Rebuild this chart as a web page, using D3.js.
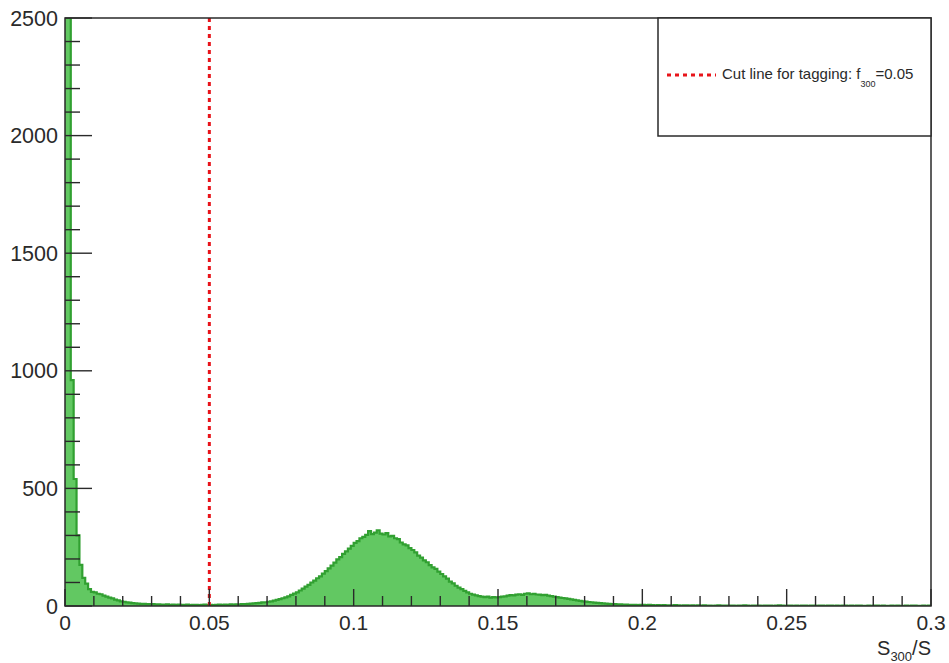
<!DOCTYPE html>
<html>
<head>
<meta charset="utf-8">
<script src="https://cdn.jsdelivr.net/npm/d3@7"></script>
<style>
  body { margin: 0; background: #fff; }
  text { font-family: "Liberation Sans", Arial, Helvetica, sans-serif; fill: #2a2a2a; }
</style>
</head>
<body>
<script>
let width = 949
let height = 663

// histogram of S300/S, bins of 0.001 from 0 to 0.3
const binWidth = 0.001
const counts = [
  6000, 2700, 960, 540, 300, 175, 120, 95, 72, 60,
  58, 52, 50, 44, 40, 36, 32, 27, 24, 20,
  18, 15, 14, 12, 11, 10, 9, 9, 8, 8,
  8, 7, 7, 6, 6, 7, 5, 6, 5, 6,
  5, 5, 6, 4, 5, 5, 4, 5, 6, 4,
  5, 4, 5, 6, 5, 6, 5, 7, 6, 7,
  7, 8, 8, 9, 10, 11, 12, 13, 15, 16,
  18, 20, 23, 26, 29, 33, 37, 41, 47, 53,
  58, 66, 74, 82, 90, 100, 108, 118, 126, 138,
  148, 160, 172, 184, 198, 208, 222, 232, 244, 256,
  268, 276, 288, 294, 302, 318, 306, 312, 322, 308,
  304, 310, 296, 298, 288, 284, 270, 262, 258, 246,
  238, 228, 214, 206, 194, 186, 174, 164, 158, 146,
  136, 126, 116, 104, 96, 86, 78, 72, 64, 58,
  52, 48, 45, 42, 40, 38, 40, 36, 38, 37,
  38, 40, 41, 44, 46, 45, 48, 50, 47, 52,
  54, 50, 52, 49, 48, 46, 47, 44, 42, 40,
  38, 36, 34, 32, 30, 28, 26, 24, 22, 20,
  19, 17, 16, 14, 13, 12, 11, 10, 9, 8,
  8, 7, 7, 6, 6, 5, 5, 5, 4, 5,
  5, 4, 5, 4, 3, 4, 3, 4, 3, 3,
  3, 4, 3, 2, 3, 3, 2, 3, 2, 3,
  2, 3, 2, 2, 1, 2, 3, 2, 2, 2,
  2, 2, 1, 2, 2, 3, 2, 1, 2, 2,
  2, 1, 2, 2, 2, 1, 2, 3, 2, 1,
  2, 2, 1, 2, 1, 2, 2, 1, 2, 2,
  1, 2, 2, 1, 2, 2, 1, 2, 1, 2,
  2, 1, 2, 1, 2, 2, 1, 1, 2, 1,
  2, 2, 1, 2, 1, 1, 2, 1, 2, 1,
  1, 2, 1, 2, 2, 1, 1, 2, 1, 2
]

const xTicks = [0, 0.05, 0.1, 0.15, 0.2, 0.25, 0.3]
const xTickLabels = ['0', '0.05', '0.1', '0.15', '0.2', '0.25', '0.3']
const yTicks = [0, 500, 1000, 1500, 2000, 2500]
const yTickLabels = ['0', '500', '1000', '1500', '2000', '2500']
const cutValue = 0.05

const fLeft = 65, fRight = 931, fTop = 18, fBottom = 606

let svg = d3.select('body')
  .append('svg')
  .attr('width', width)
  .attr('height', height)

let x = d3.scaleLinear().domain([0, 0.3]).range([fLeft, fRight])
let y = d3.scaleLinear().domain([0, 2500]).range([fBottom, fTop])

svg.append('clipPath').attr('id', 'frame')
  .append('rect')
  .attr('x', fLeft).attr('y', fTop)
  .attr('width', fRight - fLeft).attr('height', fBottom - fTop)

// step points, one extra at the end to close the last bin
let pts = counts.map((c, i) => [i * binWidth, c])
pts.push([counts.length * binWidth, counts[counts.length - 1]])

let plot = svg.append('g').attr('clip-path', 'url(#frame)')

plot.append('path')
  .datum(pts)
  .attr('fill', '#62c862')
  .attr('d', d3.area()
    .curve(d3.curveStepAfter)
    .x(d => x(d[0]))
    .y0(y(0))
    .y1(d => y(d[1])))

plot.append('path')
  .datum(pts)
  .attr('fill', 'none')
  .attr('stroke', '#31a031')
  .attr('stroke-width', 2.2)
  .attr('d', d3.line()
    .curve(d3.curveStepAfter)
    .x(d => x(d[0]))
    .y(d => y(d[1])))

// cut line
plot.append('line')
  .attr('x1', x(cutValue)).attr('x2', x(cutValue))
  .attr('y1', fTop).attr('y2', fBottom)
  .attr('stroke', '#e8141a')
  .attr('stroke-width', 3)
  .attr('stroke-dasharray', '4,4')

// frame
svg.append('rect')
  .attr('x', fLeft).attr('y', fTop)
  .attr('width', fRight - fLeft).attr('height', fBottom - fTop)
  .attr('fill', 'none')
  .attr('stroke', '#2a2a2a')
  .attr('stroke-width', 1.5)

// x ticks: minor every 0.01, major every 0.05
let ticks = svg.append('g').attr('stroke', '#2a2a2a').attr('stroke-width', 1.4)
d3.range(0, 31).forEach(i => {
  let major = i % 5 === 0
  ticks.append('line')
    .attr('x1', x(i / 100)).attr('x2', x(i / 100))
    .attr('y1', fBottom).attr('y2', fBottom - (major ? 17 : 10))
})
// y ticks: minor every 100, major every 500
d3.range(0, 26).forEach(i => {
  let major = i % 5 === 0
  ticks.append('line')
    .attr('x1', fLeft).attr('x2', fLeft + (major ? 27 : 15))
    .attr('y1', y(i * 100)).attr('y2', y(i * 100))
})

svg.append('g').selectAll('text')
  .data(xTicks)
  .join('text')
  .attr('x', d => x(d))
  .attr('y', 630)
  .attr('text-anchor', 'middle')
  .attr('font-size', 21)
  .text((d, i) => xTickLabels[i])

svg.append('g').selectAll('text')
  .data(yTicks)
  .join('text')
  .attr('x', 58)
  .attr('y', d => y(d) + 7.5)
  .attr('text-anchor', 'end')
  .attr('font-size', 21.5)
  .text((d, i) => yTickLabels[i])

// axis title S300/S
let title = svg.append('text')
  .attr('x', fRight)
  .attr('y', 655)
  .attr('text-anchor', 'end')
  .attr('font-size', 20)
title.append('tspan').text('S')
title.append('tspan').attr('font-size', 13).attr('dy', 6).text('300')
title.append('tspan').attr('dy', -6).text('/S')

// legend
svg.append('rect')
  .attr('x', 658).attr('y', fTop)
  .attr('width', fRight - 658).attr('height', 136 - fTop)
  .attr('fill', '#fff')
  .attr('stroke', '#2a2a2a')
  .attr('stroke-width', 1.5)

svg.append('line')
  .attr('x1', 667).attr('x2', 716)
  .attr('y1', 75).attr('y2', 75)
  .attr('stroke', '#e8141a')
  .attr('stroke-width', 3)
  .attr('stroke-dasharray', '4,4')

let leg = svg.append('text')
  .attr('x', 722)
  .attr('y', 79)
  .attr('font-size', 15)
leg.append('tspan').text('Cut line for tagging: f')
leg.append('tspan').attr('font-size', 9).attr('dy', 8).text('300')
leg.append('tspan').attr('dy', -8).text('=0.05')
</script>
</body>
</html>
